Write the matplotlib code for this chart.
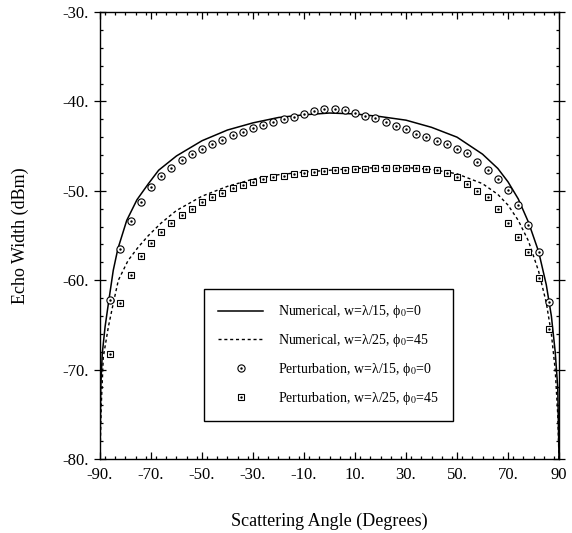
import numpy as np
import matplotlib
matplotlib.use('Agg')
import matplotlib.pyplot as plt
from matplotlib.ticker import MultipleLocator, FixedLocator

plt.rcParams['font.family'] = ['Liberation Serif', 'DejaVu Serif']
plt.rcParams['mathtext.fontset'] = 'stix'

# numerical curves
ang_num15 = [-90, -89.7, -89.1, -88.0, -86.5, -84.8, -83.0, -79.5, -75.5, -71, -67, -60, -50, -40,
             -30, -20, -10, 0, 10, 20, 30, 40, 50, 60, 66, 70, 74, 78, 82, 85, 87, 88.5, 89.5, 90]
num15 = [-80, -72, -68.2, -65.2, -62.2, -58.9, -56.5, -53.3, -51.0, -49.2, -47.7, -46.1, -44.4, -43.2,
         -42.4, -41.8, -41.5, -41.3, -41.4, -41.7, -42.1, -42.9, -44.0, -45.9, -47.5, -49.0, -50.9,
         -53.5, -56.8, -60.5, -64.0, -68.0, -72.0, -80]

ang_num25 = [-90, -89.5, -88.7, -86.7, -84.8, -82.8, -79, -75, -71, -66, -60, -50, -40, -30, -20,
             -10, 0, 10, 20, 30, 40, 50, 60, 66, 70, 74, 78, 82, 85, 87, 88.5, 89.5, 90]
num25 = [-80, -74, -68.6, -65.2, -62.6, -60.0, -57.8, -56.3, -55.0, -53.6, -52.2, -50.6, -49.5, -48.7,
         -48.2, -47.9, -47.7, -47.5, -47.4, -47.4, -47.6, -48.1, -49.2, -50.4, -51.6, -53.3, -55.6,
         -59.0, -62.5, -66.0, -70.0, -75.0, -80]

# perturbation points
ang_pert = [-86, -82, -78, -74, -70, -66, -62, -58, -54, -50, -46, -42, -38, -34, -30, -26, -22,
            -18, -14, -10, -6, -2, 2, 6, 10, 14, 18, 22, 26, 30, 34, 38, 42, 46, 50, 54, 58, 62,
            66, 70, 74, 78, 82, 86]
pert15 = [-62.2, -56.5, -53.4, -51.2, -49.6, -48.4, -47.4, -46.6, -45.9, -45.3, -44.8, -44.3, -43.8,
          -43.4, -43.0, -42.6, -42.3, -42.0, -41.7, -41.4, -41.1, -40.8, -40.8, -41.0, -41.3, -41.6,
          -41.9, -42.3, -42.7, -43.1, -43.6, -44.0, -44.4, -44.8, -45.3, -45.8, -46.8, -47.7, -48.7,
          -49.9, -51.6, -53.8, -56.8, -62.4]
pert25 = [-68.3, -62.6, -59.4, -57.3, -55.8, -54.6, -53.6, -52.7, -52.0, -51.3, -50.7, -50.2, -49.7,
          -49.3, -49.0, -48.7, -48.5, -48.3, -48.1, -48.0, -47.9, -47.8, -47.7, -47.7, -47.6, -47.6,
          -47.5, -47.5, -47.5, -47.5, -47.5, -47.6, -47.7, -48.0, -48.5, -49.2, -50.0, -50.7, -52.0,
          -53.6, -55.2, -56.8, -59.8, -65.5]

labels = ['Numerical, w=\u03bb/15, \u03d5$_0$=0',
          'Numerical, w=\u03bb/25, \u03d5$_0$=45',
          'Perturbation, w=\u03bb/15, \u03d5$_0$=0',
          'Perturbation, w=\u03bb/25, \u03d5$_0$=45']

fig = plt.figure(figsize=(5.72, 5.33), dpi=100)
ax = fig.add_axes([0.1748, 0.1388, 0.8025, 0.8387])

l1, = ax.plot(ang_num15, num15, '-', color='black', lw=1.1)
l2, = ax.plot(ang_num25, num25, color='black', lw=1.0, linestyle=(0, (2.2, 2.0)))
c1, = ax.plot(ang_pert, pert15, 'o', mfc='white', mec='black', mew=0.8, ms=5.2, ls='none')
c2, = ax.plot(ang_pert, pert15, '.', color='black', ms=1.5, ls='none')
s1, = ax.plot(ang_pert, pert25, 's', mfc='white', mec='black', mew=0.8, ms=4.6, ls='none')
s2, = ax.plot(ang_pert, pert25, '.', color='black', ms=1.5, ls='none')

ax.set_xlim(-90, 90)
ax.set_ylim(-80, -30)

xt = [-90, -70, -50, -30, -10, 10, 30, 50, 70, 90]
ax.xaxis.set_major_locator(FixedLocator(xt))
ax.set_xticklabels([str(v) + '.' for v in xt[:-1]] + ['90'])
ax.xaxis.set_minor_locator(MultipleLocator(4))
yt = [-80, -70, -60, -50, -40, -30]
ax.yaxis.set_major_locator(FixedLocator(yt))
ax.set_yticklabels([str(v) + '.' for v in yt])
ax.yaxis.set_minor_locator(MultipleLocator(2))

ax.tick_params(which='both', direction='in', top=True, right=True, labelsize=12, width=0.9)
ax.tick_params(which='major', length=5, pad=6)
ax.tick_params(which='minor', length=2.5)
ax.tick_params(axis='y', which='major', direction='inout', length=8, pad=4)
for sp in ax.spines.values():
    sp.set_linewidth(1.0)

ax.set_xlabel('Scattering Angle (Degrees)', fontsize=13, labelpad=21)
ax.set_ylabel('Echo Width (dBm)', fontsize=13, labelpad=24)

leg = ax.legend([l1, l2, (c1, c2), (s1, s2)], labels, loc='center',
                bbox_to_anchor=(0.498, 0.2325), fontsize=10, frameon=True, fancybox=False,
                edgecolor='black', framealpha=1, handlelength=3.2, handletextpad=1.1,
                labelspacing=0.85, borderpad=1.0)
leg.get_frame().set_linewidth(1.0)

fig.savefig('out.png', dpi=100)
